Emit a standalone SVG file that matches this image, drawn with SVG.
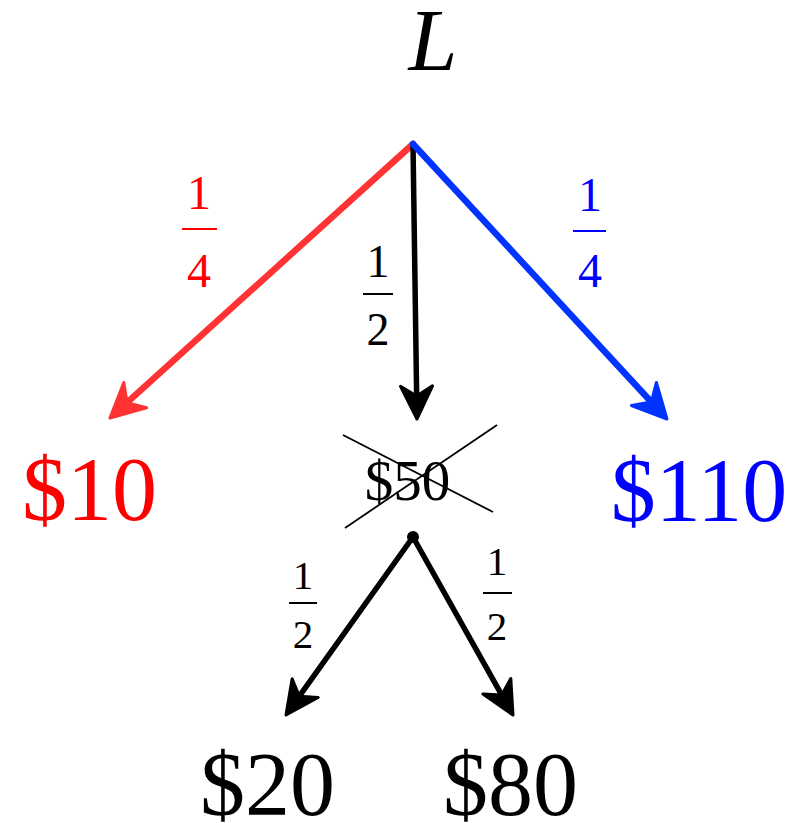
<svg xmlns="http://www.w3.org/2000/svg" width="799" height="823" viewBox="0 0 799 823">
<style>
text{font-family:"Liberation Serif","Times New Roman",serif;text-anchor:middle}
.big{font-size:90px}
.red{fill:#ff0000}
.blue{fill:#0000ff}
.blk{fill:#000}
.fr{font-size:48px}
.frs{font-size:41px}
.bar{stroke-width:2}
.lr{stroke:#ff3333;stroke-width:6.5;fill:none}
.lb{stroke:#0033ff;stroke-width:6.5;fill:none}
.lk{stroke:#000;stroke-width:5.5;fill:none}
</style>
<defs>
<marker id="ar" markerUnits="userSpaceOnUse" markerWidth="50" markerHeight="44" refX="16" refY="22" orient="auto" overflow="visible">
<path d="M36,22 L2,5 L13,22 L2,39 Z" fill="#ff3333" stroke="#ff3333" stroke-width="3" stroke-linejoin="round"/>
</marker>
<marker id="ab" markerUnits="userSpaceOnUse" markerWidth="50" markerHeight="44" refX="16" refY="22" orient="auto" overflow="visible">
<path d="M36,22 L2,5 L13,22 L2,39 Z" fill="#0033ff" stroke="#0033ff" stroke-width="3" stroke-linejoin="round"/>
</marker>
<marker id="ak" markerUnits="userSpaceOnUse" markerWidth="50" markerHeight="44" refX="16" refY="22" orient="auto" overflow="visible">
<path d="M36,22 L3,6 L13,22 L3,38 Z" fill="#000" stroke="#000" stroke-width="3" stroke-linejoin="round"/>
</marker>
</defs>
<rect width="799" height="823" fill="#fff"/>
<g id="connectors">
<line class="lr" x1="413" y1="144" x2="124.8" y2="404.6" marker-end="url(#ar)" stroke-linecap="round"/>
<line class="lk" x1="413" y1="144" x2="416.7" y2="399" marker-end="url(#ak)" stroke-linecap="round"/>
<line class="lb" x1="413" y1="144" x2="653.4" y2="404.3" marker-end="url(#ab)" stroke-linecap="round"/>
<line class="lk" x1="413" y1="537" x2="297.6" y2="698.7" marker-end="url(#ak)" stroke-linecap="round"/>
<line class="lk" x1="413" y1="537" x2="503.2" y2="697.6" marker-end="url(#ak)" stroke-linecap="round"/>
<g id="label-red">
<text class="fr red" x="199" y="209">1</text>
<line class="bar" x1="182" y1="229" x2="217" y2="229" stroke="#ff0000"/>
<text class="fr red" x="199" y="287">4</text>
</g>
<g id="label-mid">
<text class="fr blk" x="378" y="277" style="font-size:46px">1</text>
<line class="bar" x1="363" y1="294" x2="393" y2="294" stroke="#000"/>
<text class="fr blk" x="378" y="345" style="font-size:46px">2</text>
</g>
<g id="label-blue">
<text class="fr blue" x="590" y="211">1</text>
<line class="bar" x1="573" y1="231" x2="606" y2="231" stroke="#0000ff"/>
<text class="fr blue" x="590" y="287">4</text>
</g>
<g id="label-lowleft">
<text class="frs blk" x="303" y="589">1</text>
<line class="bar" x1="289" y1="603" x2="317" y2="603" stroke="#000"/>
<text class="frs blk" x="303" y="648">2</text>
</g>
<g id="label-lowright">
<text class="frs blk" x="497" y="575">1</text>
<line class="bar" x1="483" y1="593" x2="512" y2="593" stroke="#000"/>
<text class="frs blk" x="497" y="640">2</text>
</g>
</g>
<g id="node-L">
<text x="433" y="70" style="font-size:88px;font-style:italic">L</text>
</g>
<g id="node-10">
<text class="big red" x="89.5" y="520">$10</text>
</g>
<g id="node-110">
<text class="big blue" x="699" y="521">$110</text>
</g>
<g id="node-50">
<text x="407.5" y="500" style="font-size:57px">$50</text>
<line x1="343" y1="435" x2="493" y2="512" stroke="#000" stroke-width="1.8"/>
<line x1="497" y1="425" x2="345" y2="528" stroke="#000" stroke-width="1.8"/>
<circle cx="413" cy="537" r="6" fill="#000"/>
</g>
<g id="node-20">
<text class="big blk" x="267.5" y="815">$20</text>
</g>
<g id="node-80">
<text class="big blk" x="510.5" y="815">$80</text>
</g>
</svg>
